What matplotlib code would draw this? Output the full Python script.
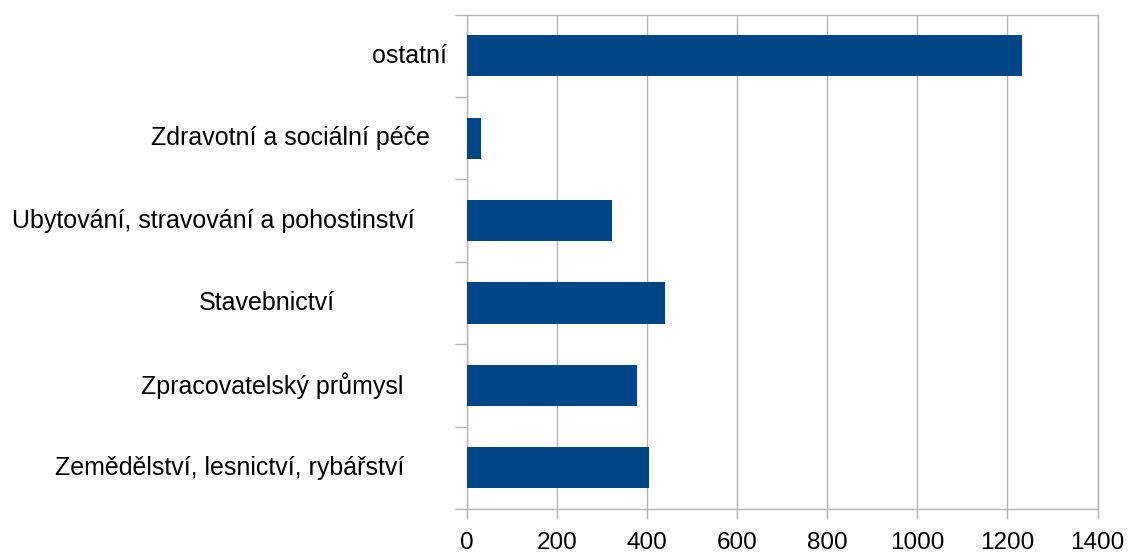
import matplotlib
matplotlib.use("Agg")
import matplotlib.pyplot as plt
from matplotlib.transforms import blended_transform_factory

categories = [
    "Zemědělství, lesnictví, rybářství",
    "Zpracovatelský průmysl",
    "Stavebnictví",
    "Ubytování, stravování a pohostinství",
    "Zdravotní a sociální péče",
    "ostatní",
]
values = [405, 379, 439, 323, 32, 1233]
xticks = [0, 200, 400, 600, 800, 1000, 1200, 1400]

# label horizontal centres (pixels in the figure), style only
label_centers_px = [230, 272, 267, 213, 290, 409]

W, H = 1130, 556
fig = plt.figure(figsize=(W / 100, H / 100), dpi=100)
ax_left, ax_right, ax_top, ax_bottom = 466.7, 1097.5, 14.7, 509
ax = fig.add_axes([ax_left / W, 1 - ax_bottom / H, (ax_right - ax_left) / W, (ax_bottom - ax_top) / H])

grid_c = "#b3b3b3"
ax.barh(range(len(values)), values, height=0.5, color="#004586", zorder=3)
ax.set_xlim(0, 1400)
ax.set_ylim(-0.5, len(values) - 0.5)
ax.set_xticks(xticks)
ax.set_xticklabels([str(t) for t in xticks], fontsize=17.5, family="Liberation Sans")
ax.xaxis.grid(True, color=grid_c, linewidth=1, zorder=0)
ax.set_axisbelow(True)
ax.tick_params(axis="x", length=7.5, width=1, color=grid_c, pad=9)

ax.set_yticks([i - 0.5 for i in range(len(values) + 1)])
ax.set_yticklabels([])
ax.tick_params(axis="y", length=8.6, width=1, color=grid_c)

for s in ax.spines.values():
    s.set_color(grid_c)
    s.set_linewidth(1)

trans = blended_transform_factory(fig.transFigure, ax.transData)
for i, (lab, cx) in enumerate(zip(categories, label_centers_px)):
    ax.text(cx / W, i, lab, transform=trans, ha="center", va="center",
            fontsize=18, family="Liberation Sans", color="#000000")

fig.savefig("out.png", dpi=100)
